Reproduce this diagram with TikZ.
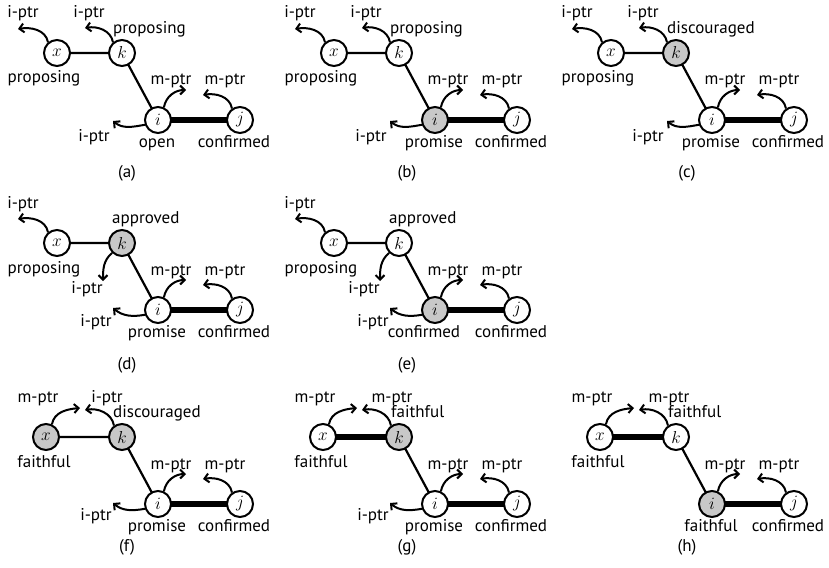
\documentclass[tikz,border=0pt]{standalone}
\usepackage{fontspec}
\setmainfont{PT Sans}
\usetikzlibrary{arrows.meta,backgrounds}
\definecolor{shade}{RGB}{200,200,200}
\tikzset{
  st/.style={circle,draw,line width=2pt,minimum size=26pt,inner sep=0pt,fill=white,font=\fontsize{17.28}{18}\selectfont},
  on/.style={fill=shade},
  lnk/.style={line width=2.2pt},
  heavy/.style={line width=6pt},
  ptr/.style={line width=2pt,-{Straight Barb[length=4.5pt,width=9pt]}},
  lbl/.style={font=\fontsize{17}{17}\selectfont,inner sep=0pt,anchor=base},
  lblw/.style={lbl,anchor=base west},
  subcap/.style={font=\fontsize{17}{17}\selectfont,inner sep=0pt},
  upl/.style={out=100,in=10},
  upr/.style={out=80,in=180},
  lfu/.style={out=190,in=-40},
  dnl/.style={out=220,in=90},
}
\begin{document}
\begin{tikzpicture}[x=1pt,y=1pt]
\useasboundingbox (0,0) rectangle (829,-567);

% ---------- (a) ----------
\begin{scope}[name prefix=a-]
  \node[st] (x) at (57,-53) {$x$};
  \node[st] (k) at (122,-53) {$k$};
  \node[st] (i) at (158,-120) {$i$};
  \node[st] (j) at (240,-120) {$j$};
  \begin{pgfonlayer}{background}
    \draw[lnk] (x.center) -- (k.center) -- (i.center);
    \draw[heavy] (i.center) -- (j.center);
  \end{pgfonlayer}
  \coordinate (tx) at (18,-29);
  \coordinate (tk) at (85,-28);
  \coordinate (ti) at (186,-90);
  \coordinate (tj) at (203,-95);
  \coordinate (tl) at (113,-121);
  \draw[ptr] (x.130) to[upl] (tx);
  \draw[ptr] (k.130) to[upl] (tk);
  \draw[ptr] (i.65) to[upr] (ti);
  \draw[ptr] (j.125) to[upl] (tj);
  \draw[ptr] (i.200) to[lfu] (tl);
  \node[lbl] (l1) at (23,-18) {i-ptr};
  \node[lbl] (l2) at (89,-18) {i-ptr};
  \node[lblw] (l3) at (113,-34) {proposing};
  \node[lbl] (l4) at (44,-83) {proposing};
  \node[lbl] (l5) at (171,-85) {m-ptr};
  \node[lbl] (l6) at (225,-85) {m-ptr};
  \node[lbl] (l7) at (94,-141) {i-ptr};
  \node[lbl] (l8) at (157,-147) {open};
  \node[lbl] (l9) at (234,-147) {confirmed};
  \node[subcap] (c) at (127,-173) {(a)};
\end{scope}

% ---------- (b) ----------
\begin{scope}[shift={(277,0)},name prefix=b-]
  \node[st] (x) at (57,-53) {$x$};
  \node[st] (k) at (122,-53) {$k$};
  \node[st,on] (i) at (158,-120) {$i$};
  \node[st] (j) at (240,-120) {$j$};
  \begin{pgfonlayer}{background}
    \draw[lnk] (x.center) -- (k.center) -- (i.center);
    \draw[heavy] (i.center) -- (j.center);
  \end{pgfonlayer}
  \coordinate (tx) at (18,-29);
  \coordinate (tk) at (85,-28);
  \coordinate (ti) at (186,-90);
  \coordinate (tj) at (203,-95);
  \coordinate (tl) at (113,-121);
  \draw[ptr] (x.130) to[upl] (tx);
  \draw[ptr] (k.130) to[upl] (tk);
  \draw[ptr] (i.65) to[upr] (ti);
  \draw[ptr] (j.125) to[upl] (tj);
  \draw[ptr] (i.200) to[lfu] (tl);
  \node[lbl] (l1) at (23,-18) {i-ptr};
  \node[lbl] (l2) at (89,-18) {i-ptr};
  \node[lblw] (l3) at (113,-34) {proposing};
  \node[lbl] (l4) at (44,-83) {proposing};
  \node[lbl] (l5) at (171,-85) {m-ptr};
  \node[lbl] (l6) at (225,-85) {m-ptr};
  \node[lbl] (l7) at (94,-141) {i-ptr};
  \node[lbl] (l8) at (157,-147) {promise};
  \node[lbl] (l9) at (234,-147) {confirmed};
  \node[subcap] (c) at (130,-173) {(b)};
\end{scope}

% ---------- (c) ----------
\begin{scope}[shift={(554,0)},name prefix=c-]
  \node[st] (x) at (57,-53) {$x$};
  \node[st,on] (k) at (122,-53) {$k$};
  \node[st] (i) at (158,-120) {$i$};
  \node[st] (j) at (240,-120) {$j$};
  \begin{pgfonlayer}{background}
    \draw[lnk] (x.center) -- (k.center) -- (i.center);
    \draw[heavy] (i.center) -- (j.center);
  \end{pgfonlayer}
  \coordinate (tx) at (18,-29);
  \coordinate (tk) at (85,-28);
  \coordinate (ti) at (186,-90);
  \coordinate (tj) at (203,-95);
  \coordinate (tl) at (113,-121);
  \draw[ptr] (x.130) to[upl] (tx);
  \draw[ptr] (k.130) to[upl] (tk);
  \draw[ptr] (i.65) to[upr] (ti);
  \draw[ptr] (j.125) to[upl] (tj);
  \draw[ptr] (i.200) to[lfu] (tl);
  \node[lbl] (l1) at (23,-18) {i-ptr};
  \node[lbl] (l2) at (89,-18) {i-ptr};
  \node[lblw] (l3) at (113,-34) {discouraged};
  \node[lbl] (l4) at (44,-83) {proposing};
  \node[lbl] (l5) at (171,-85) {m-ptr};
  \node[lbl] (l6) at (225,-85) {m-ptr};
  \node[lbl] (l7) at (94,-141) {i-ptr};
  \node[lbl] (l8) at (157,-147) {promise};
  \node[lbl] (l9) at (234,-147) {confirmed};
  \node[subcap] (c) at (133,-173) {(c)};
\end{scope}

% ---------- (d) ----------
\begin{scope}[shift={(0,-190)},name prefix=d-]
  \node[st] (x) at (57,-53) {$x$};
  \node[st,on] (k) at (122,-53) {$k$};
  \node[st] (i) at (158,-120) {$i$};
  \node[st] (j) at (240,-120) {$j$};
  \begin{pgfonlayer}{background}
    \draw[lnk] (x.center) -- (k.center) -- (i.center);
    \draw[heavy] (i.center) -- (j.center);
  \end{pgfonlayer}
  \coordinate (tx) at (18,-29);
  \coordinate (td) at (103,-91);
  \coordinate (ti) at (186,-90);
  \coordinate (tj) at (203,-95);
  \coordinate (tl) at (113,-118);
  \draw[ptr] (x.130) to[upl] (tx);
  \draw[ptr] (k.225) to[dnl] (td);
  \draw[ptr] (i.65) to[upr] (ti);
  \draw[ptr] (j.125) to[upl] (tj);
  \draw[ptr] (i.200) to[lfu] (tl);
  \node[lbl] (l1) at (23,-18) {i-ptr};
  \node[lblw] (l3) at (112,-33) {approved};
  \node[lbl] (l4) at (44,-83) {proposing};
  \node[lbl] (l2) at (87,-103) {i-ptr};
  \node[lbl] (l5) at (171,-85) {m-ptr};
  \node[lbl] (l6) at (225,-85) {m-ptr};
  \node[lbl] (l7) at (96,-136) {i-ptr};
  \node[lbl] (l8) at (157,-147) {promise};
  \node[lbl] (l9) at (234,-147) {confirmed};
  \node[subcap] (c) at (127,-175) {(d)};
\end{scope}

% ---------- (e) ----------
\begin{scope}[shift={(277,-190)},name prefix=e-]
  \node[st] (x) at (57,-53) {$x$};
  \node[st] (k) at (122,-53) {$k$};
  \node[st,on] (i) at (158,-120) {$i$};
  \node[st] (j) at (240,-120) {$j$};
  \begin{pgfonlayer}{background}
    \draw[lnk] (x.center) -- (k.center) -- (i.center);
    \draw[heavy] (i.center) -- (j.center);
  \end{pgfonlayer}
  \coordinate (tx) at (18,-29);
  \coordinate (td) at (103,-91);
  \coordinate (ti) at (186,-90);
  \coordinate (tj) at (203,-95);
  \coordinate (tl) at (113,-118);
  \draw[ptr] (x.130) to[upl] (tx);
  \draw[ptr] (k.225) to[dnl] (td);
  \draw[ptr] (i.65) to[upr] (ti);
  \draw[ptr] (j.125) to[upl] (tj);
  \draw[ptr] (i.200) to[lfu] (tl);
  \node[lbl] (l1) at (23,-18) {i-ptr};
  \node[lblw] (l3) at (112,-33) {approved};
  \node[lbl] (l4) at (44,-83) {proposing};
  \node[lbl] (l2) at (87,-103) {i-ptr};
  \node[lbl] (l5) at (171,-85) {m-ptr};
  \node[lbl] (l6) at (225,-85) {m-ptr};
  \node[lbl] (l7) at (96,-136) {i-ptr};
  \node[lbl] (l8) at (147,-147) {confirmed};
  \node[lbl] (l9) at (234,-147) {confirmed};
  \node[subcap] (c) at (130,-175) {(e)};
\end{scope}

% ---------- (f) ----------
\begin{scope}[shift={(0,-384)},name prefix=f-]
  \node[st,on] (x) at (46,-53) {$x$};
  \node[st,on] (k) at (122,-53) {$k$};
  \node[st] (i) at (158,-120) {$i$};
  \node[st] (j) at (240,-120) {$j$};
  \begin{pgfonlayer}{background}
    \draw[lnk] (x.center) -- (k.center) -- (i.center);
    \draw[heavy] (i.center) -- (j.center);
  \end{pgfonlayer}
  \coordinate (tx) at (80,-24);
  \coordinate (tk) at (85,-26);
  \coordinate (ti) at (186,-90);
  \coordinate (tj) at (203,-95);
  \coordinate (tl) at (113,-119);
  \draw[ptr] (x.65) to[out=80,in=185] (tx);
  \draw[ptr] (k.125) to[upl] (tk);
  \draw[ptr] (i.65) to[upr] (ti);
  \draw[ptr] (j.125) to[upl] (tj);
  \draw[ptr] (i.200) to[lfu] (tl);
  \node[lbl] (l1) at (38,-18) {m-ptr};
  \node[lbl] (l2) at (107,-18) {i-ptr};
  \node[lblw] (l3) at (113,-33) {discouraged};
  \node[lbl] (l4) at (44,-83) {faithful};
  \node[lbl] (l5) at (171,-85) {m-ptr};
  \node[lbl] (l6) at (225,-85) {m-ptr};
  \node[lbl] (l7) at (96,-136) {i-ptr};
  \node[lbl] (l8) at (157,-147) {promise};
  \node[lbl] (l9) at (234,-147) {confirmed};
  \node[subcap] (c) at (127,-163) {(f)};
\end{scope}

% ---------- (g) ----------
\begin{scope}[shift={(277,-384)},name prefix=g-]
  \node[st] (x) at (46,-53) {$x$};
  \node[st,on] (k) at (122,-53) {$k$};
  \node[st] (i) at (158,-120) {$i$};
  \node[st] (j) at (240,-120) {$j$};
  \begin{pgfonlayer}{background}
    \draw[heavy] (x.center) -- (k.center);
    \draw[lnk] (k.center) -- (i.center);
    \draw[heavy] (i.center) -- (j.center);
  \end{pgfonlayer}
  \coordinate (tx) at (80,-24);
  \coordinate (tk) at (85,-26);
  \coordinate (ti) at (186,-90);
  \coordinate (tj) at (203,-95);
  \coordinate (tl) at (113,-119);
  \draw[ptr] (x.65) to[out=80,in=185] (tx);
  \draw[ptr] (k.125) to[upl] (tk);
  \draw[ptr] (i.65) to[upr] (ti);
  \draw[ptr] (j.125) to[upl] (tj);
  \draw[ptr] (i.200) to[lfu] (tl);
  \node[lbl] (l1) at (38,-18) {m-ptr};
  \node[lbl] (l2) at (115,-18) {m-ptr};
  \node[lblw] (l3) at (114,-33) {faithful};
  \node[lbl] (l4) at (44,-83) {faithful};
  \node[lbl] (l5) at (171,-85) {m-ptr};
  \node[lbl] (l6) at (225,-85) {m-ptr};
  \node[lbl] (l7) at (96,-136) {i-ptr};
  \node[lbl] (l8) at (157,-147) {promise};
  \node[lbl] (l9) at (234,-147) {confirmed};
  \node[subcap] (c) at (130,-163) {(g)};
\end{scope}

% ---------- (h) ----------
\begin{scope}[shift={(554,-384)},name prefix=h-]
  \node[st] (x) at (46,-53) {$x$};
  \node[st] (k) at (122,-53) {$k$};
  \node[st,on] (i) at (158,-120) {$i$};
  \node[st] (j) at (240,-120) {$j$};
  \begin{pgfonlayer}{background}
    \draw[heavy] (x.center) -- (k.center);
    \draw[lnk] (k.center) -- (i.center);
    \draw[heavy] (i.center) -- (j.center);
  \end{pgfonlayer}
  \coordinate (tx) at (80,-24);
  \coordinate (tk) at (85,-26);
  \coordinate (ti) at (186,-90);
  \coordinate (tj) at (203,-95);
  \draw[ptr] (x.65) to[out=80,in=185] (tx);
  \draw[ptr] (k.125) to[upl] (tk);
  \draw[ptr] (i.65) to[upr] (ti);
  \draw[ptr] (j.125) to[upl] (tj);
  \node[lbl] (l1) at (38,-18) {m-ptr};
  \node[lbl] (l2) at (115,-18) {m-ptr};
  \node[lblw] (l3) at (114,-33) {faithful};
  \node[lbl] (l4) at (44,-83) {faithful};
  \node[lbl] (l5) at (171,-85) {m-ptr};
  \node[lbl] (l6) at (225,-85) {m-ptr};
  \node[lbl] (l8) at (157,-147) {faithful};
  \node[lbl] (l9) at (234,-147) {confirmed};
  \node[subcap] (c) at (133,-163) {(h)};
\end{scope}
\end{tikzpicture}
\end{document}
